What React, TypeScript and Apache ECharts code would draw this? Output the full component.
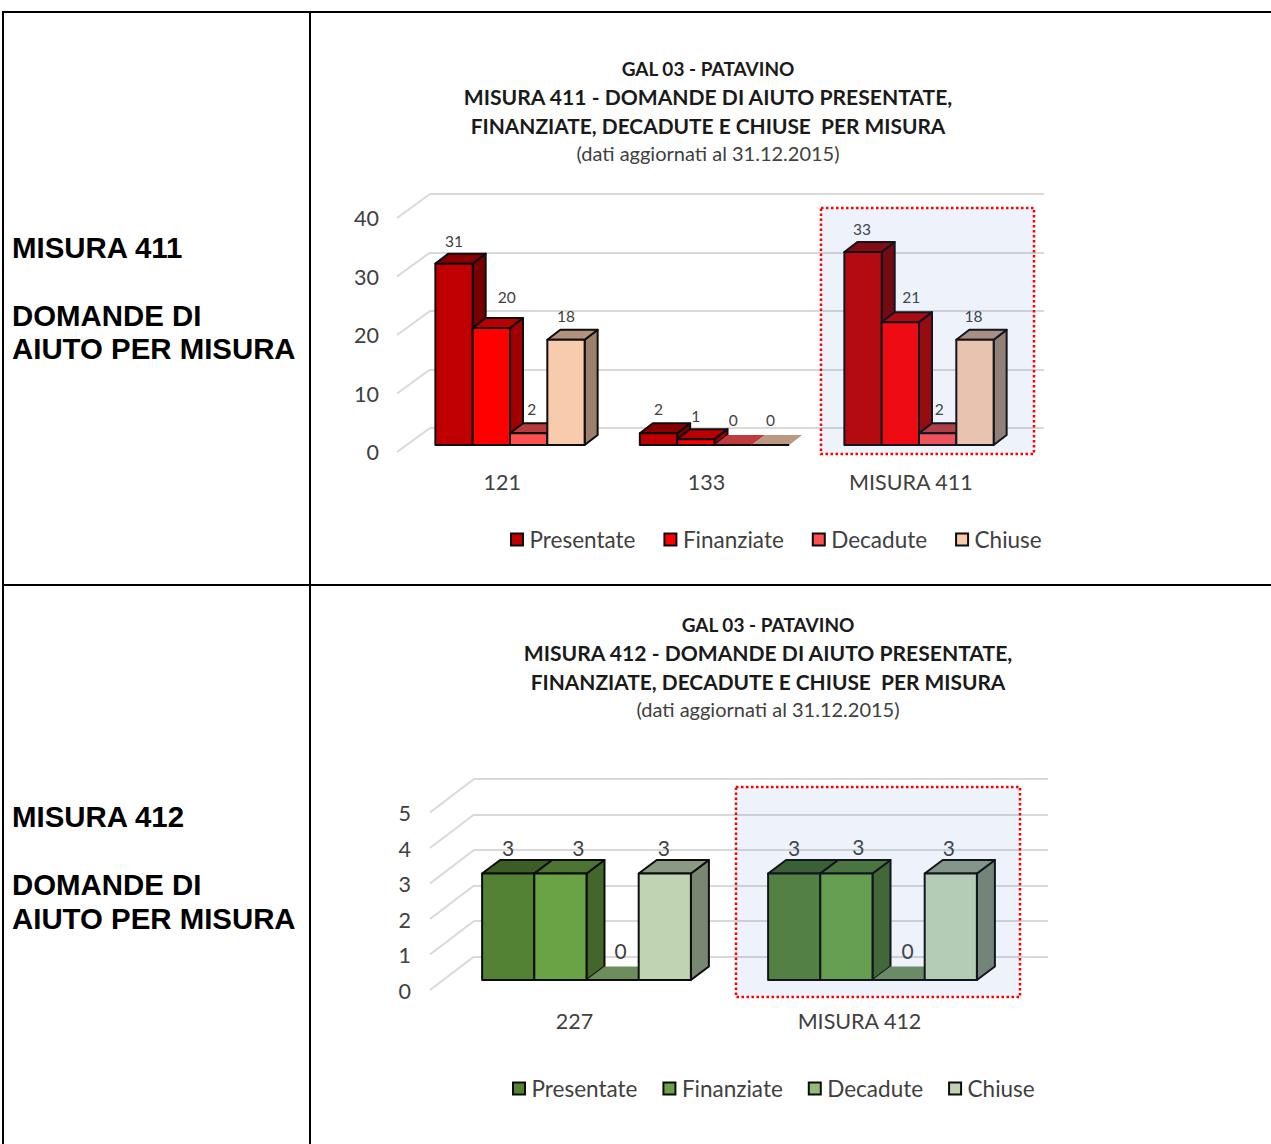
import React, { useEffect, useRef } from "react";
import * as echarts from "echarts";

const seriesNames = ["Presentate", "Finanziate", "Decadute", "Chiuse"];

const categories411 = ["121", "133", "MISURA 411"];
const presentate411 = [31, 2, 33];
const finanziate411 = [20, 1, 21];
const decadute411 = [2, 0, 2];
const chiuse411 = [18, 0, 18];
const ticks411 = [0, 10, 20, 30, 40];

const categories412 = ["227", "MISURA 412"];
const presentate412 = [3, 3];
const finanziate412 = [3, 3];
const decadute412 = [0, 0];
const chiuse412 = [3, 3];
const ticks412 = [0, 1, 2, 3, 4, 5];

const title411 = [
  "GAL 03 - PATAVINO",
  "MISURA 411 - DOMANDE DI AIUTO PRESENTATE,",
  "FINANZIATE, DECADUTE E CHIUSE  PER MISURA",
  "(dati aggiornati al 31.12.2015)",
];
const title412 = [
  "GAL 03 - PATAVINO",
  "MISURA 412 - DOMANDE DI AIUTO PRESENTATE,",
  "FINANZIATE, DECADUTE E CHIUSE  PER MISURA",
  "(dati aggiornati al 31.12.2015)",
];
const rowLabel411 = ["MISURA 411", "DOMANDE DI", "AIUTO PER MISURA"];
const rowLabel412 = ["MISURA 412", "DOMANDE DI", "AIUTO PER MISURA"];

const colors411 = ["#C00000", "#FF0000", "#FF5050", "#F8CBAD"];
const colors412 = ["#548235", "#6AA345", "#93BC7B", "#C0D4B4"];

// label nudges (dx, dy) relative to the default spot above each bar
const nudges411 = [
  [[0, 1], [0, 0], [-1, 1]],
  [[15.5, -7], [0, 0.5], [11, -1]],
  [[3, 0], [0, -1], [1.5, 0]],
  [[0, 0], [0, -1], [-1.5, 0]],
];
const nudges412 = [
  [[0, 0], [0, 0]],
  [[18, 0], [12, -1]],
  [[8, -4], [9, -4]],
  [[-1, 0], [-2, 0]],
];

const shade = (hex: string, f: number) => {
  const n = parseInt(hex.slice(1), 16);
  const c = [(n >> 16) & 255, (n >> 8) & 255, n & 255].map((v) => Math.round(v * f));
  return `rgb(${c[0]},${c[1]},${c[2]})`;
};

const EDGE = "#0d0d0d";
const TEXT = "#404040";
const FONT = "Lato";

function barSeries(opts: {
  axis: number; name: string; values: number[]; color: string; k: number;
  depth: [number, number]; nudges: number[][]; labelGap: number; labelSize: number;
}) {
  const { axis, name, values, color, k, depth, nudges, labelGap, labelSize } = opts;
  return {
    type: "custom",
    name,
    xAxisIndex: axis,
    yAxisIndex: axis,
    z: 3,
    clip: false,
    silent: true,
    itemStyle: { color },
    encode: { x: 0, y: 1 },
    data: values.map((v, i) => [i, v]),
    renderItem: (params: any, api: any) => {
      const i = api.value(0);
      const v = api.value(1);
      const top = api.coord([i, v]);
      const base = api.coord([i, 0]);
      const w = api.size([1, 0])[0] * 0.1825;
      const x0 = top[0] + (k - 2) * w;
      const x1 = x0 + w;
      const [dx, dy] = depth;
      const children: any[] = [];
      const zero = v === 0;
      const edge = { stroke: EDGE, lineWidth: 2, lineJoin: "round" };
      if (!zero) {
        children.push({
          type: "polygon",
          shape: { points: [[x1, top[1]], [x1 + dx, top[1] - dy], [x1 + dx, base[1] - dy], [x1, base[1]]] },
          style: { fill: shade(color, 0.63), ...edge },
        });
      }
      children.push({
        type: "polygon",
        shape: { points: [[x0, top[1]], [x0 + dx, top[1] - dy], [x1 + dx, top[1] - dy], [x1, top[1]]] },
        style: zero ? { fill: shade(color, 0.75) } : { fill: shade(color, 0.72), ...edge },
      });
      if (zero) {
        children.push({
          type: "line",
          shape: { x1: x0, y1: base[1], x2: x1, y2: base[1] },
          style: { stroke: EDGE, lineWidth: 2 },
        });
      } else {
        children.push({
          type: "rect",
          shape: { x: x0, y: top[1], width: w, height: base[1] - top[1] },
          style: { fill: color, ...edge },
        });
      }
      const n = nudges[i];
      children.push({
        type: "text",
        z2: 20,
        style: {
          text: String(v),
          x: x0 + w / 2 + n[0],
          y: top[1] - labelGap + n[1],
          align: "center",
          verticalAlign: "middle",
          fill: TEXT,
          font: `${labelSize}px ${FONT}`,
        },
      });
      return { type: "group", children };
    },
  };
}

function wallSlants(axis: number, ticks: number[], dx: number, dy: number) {
  return {
    type: "custom",
    xAxisIndex: axis,
    yAxisIndex: axis,
    z: 1,
    clip: false,
    silent: true,
    encode: { x: 0, y: 1 },
    data: ticks.map((t) => [0, t]),
    renderItem: (params: any, api: any) => {
      const y = api.coord([0, api.value(1)])[1];
      const x = params.coordSys.x;
      return {
        type: "line",
        shape: { x1: x, y1: y, x2: x - dx, y2: y + dy },
        style: { stroke: "#D9D9D9", lineWidth: 2 },
      };
    },
  };
}

function panelAxes(cats: string[], max: number, interval: number, labelMargin: number, axisFont: number) {
  const baseX = { type: "category", data: cats, axisLine: { show: false }, axisTick: { show: false }, axisLabel: { show: false } };
  const baseY = { type: "value", min: 0, max, interval, axisLine: { show: false }, axisTick: { show: false }, axisLabel: { show: false }, splitLine: { show: false } };
  return {
    xAxis: [
      baseX,
      { ...baseX, axisLabel: { show: true, margin: labelMargin, color: TEXT, fontFamily: FONT, fontSize: axisFont } },
      baseX,
    ],
    yAxis: [
      { ...baseY, splitLine: { show: true, lineStyle: { color: "#D9D9D9", width: 2 } } },
      { ...baseY, axisLabel: { show: true, margin: 21, color: TEXT, fontFamily: FONT, fontSize: axisFont } },
      baseY,
    ],
  };
}

const legendOf = (colors: string[], left: number, top: number, itemGap: number, fontSize: number) => ({
  left,
  top,
  padding: 0,
  itemWidth: 12,
  itemHeight: 12,
  itemGap,
  icon: "rect",
  selectedMode: false,
  textStyle: { color: TEXT, fontFamily: FONT, fontSize, padding: [0, 0, 0, 1.5] },
  data: seriesNames.map((name, i) => ({
    name,
    itemStyle: { color: colors[i], borderColor: EDGE, borderWidth: 2 },
  })),
});

const textEl = (text: string, x: number, y: number, font: string, fill: string, align = "center") => ({
  type: "text",
  x,
  y,
  z: 50,
  silent: true,
  style: { text, font, fill, align, verticalAlign: "middle" },
});

const lineEl = (x1: number, y1: number, x2: number, y2: number) => ({
  type: "line",
  z: 60,
  silent: true,
  shape: { x1, y1, x2, y2 },
  style: { stroke: "#000", lineWidth: 2 },
});

const highlight = (x: number, y: number, width: number, height: number) => ({
  type: "rect",
  z: 40,
  silent: true,
  shape: { x, y, width, height },
  style: { fill: "rgba(68,124,210,0.09)", stroke: "#FF0000", lineWidth: 2.5, lineDash: [2.5, 2.5] },
});

function buildOption() {
  const a1 = panelAxes(categories411, 40, 10, 19, 21.5);
  const a2 = panelAxes(categories412, 5, 1, 19, 21.5);
  const values411 = [presentate411, finanziate411, decadute411, chiuse411];
  const values412 = [presentate412, finanziate412, decadute412, chiuse412];
  const RFONT = "bold 29.4px 'Liberation Sans'";
  const T1 = `bold 19px ${FONT}`;
  const T2 = `bold 21.1px ${FONT}`;
  const T3 = `bold 20.9px ${FONT}`;
  const TREG = `20px ${FONT}`;
  return {
    animation: false,
    backgroundColor: "#fff",
    grid: [
      { left: 430, top: 194, width: 614, height: 234 },
      { left: 400, top: 218, width: 613, height: 234 },
      { left: 407.75, top: 211, width: 613.5, height: 234 },
      { left: 474, top: 779, width: 574, height: 177.5 },
      { left: 432, top: 813, width: 570, height: 177.5 },
      { left: 443.5, top: 802.5, width: 572, height: 177.5 },
    ],
    xAxis: [
      ...a1.xAxis.map((a, i) => ({ ...a, gridIndex: i })),
      ...a2.xAxis.map((a, i) => ({ ...a, gridIndex: i + 3 })),
    ],
    yAxis: [
      ...a1.yAxis.map((a, i) => ({ ...a, gridIndex: i })),
      ...a2.yAxis.map((a, i) => ({ ...a, gridIndex: i + 3 })),
    ],
    legend: [
      legendOf(colors411, 510, 528, 28, 22.5),
      legendOf(colors412, 512, 1077, 25, 22.5),
    ],
    series: [
      wallSlants(0, ticks411, 33, 24),
      ...seriesNames.map((name, k) =>
        barSeries({ axis: 2, name, values: values411[k], color: colors411[k], k, depth: [13, 10], nudges: nudges411[k], labelGap: 24, labelSize: 15.5 })
      ),
      wallSlants(3, ticks412, 44, 33.5),
      ...seriesNames.map((name, k) =>
        barSeries({ axis: 5, name, values: values412[k], color: colors412[k], k, depth: [18, 13.5], nudges: nudges412[k], labelGap: 26, labelSize: 21 })
      ),
    ],
    graphic: {
      elements: [
        highlight(821, 208, 213, 246),
        highlight(736, 787, 284, 210),
        lineEl(3, 12, 3, 1144),
        lineEl(310, 12, 310, 1144),
        lineEl(2, 12, 1271, 12),
        lineEl(2, 585, 1271, 585),
        textEl(rowLabel411[0], 12, 247, RFONT, "#000", "left"),
        textEl(rowLabel411[1], 12, 315, RFONT, "#000", "left"),
        textEl(rowLabel411[2], 12, 348, RFONT, "#000", "left"),
        textEl(rowLabel412[0], 12, 816, RFONT, "#000", "left"),
        textEl(rowLabel412[1], 12, 884, RFONT, "#000", "left"),
        textEl(rowLabel412[2], 12, 918, RFONT, "#000", "left"),
        textEl(title411[0], 708, 68.5, T1, "#1a1a1a"),
        textEl(title411[1], 708, 96, T2, "#1a1a1a"),
        textEl(title411[2], 708, 125, T3, "#1a1a1a"),
        textEl(title411[3], 708, 153, TREG, TEXT),
        textEl(title412[0], 768, 624.5, T1, "#1a1a1a"),
        textEl(title412[1], 768, 652, T2, "#1a1a1a"),
        textEl(title412[2], 768, 681, T3, "#1a1a1a"),
        textEl(title412[3], 768, 709, TREG, TEXT),
      ],
    },
  };
}

export default function App() {
  const ref = useRef<HTMLDivElement>(null);
  useEffect(() => {
    document.body.style.margin = "0";
    const chart = echarts.init(ref.current!, undefined, { renderer: "svg" });
    chart.setOption(buildOption() as any);
    return () => chart.dispose();
  }, []);
  return <div ref={ref} style={{ position: "absolute", left: 0, top: 0, width: 1271, height: 1144, overflow: "hidden" }} />;
}
